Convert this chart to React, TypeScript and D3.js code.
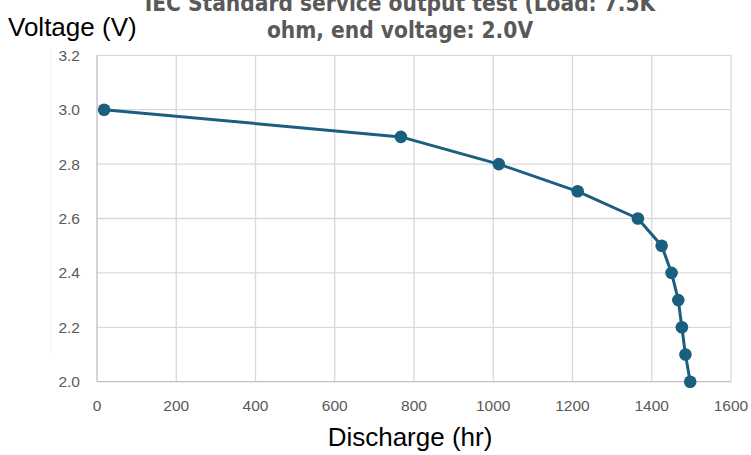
import * as d3 from 'd3';
import React, { useEffect, useRef } from 'react';

const hours = [18, 767, 1014, 1213, 1365, 1425, 1450, 1467, 1476, 1485, 1497];
const volts = [3.0, 2.9, 2.8, 2.7, 2.6, 2.5, 2.4, 2.3, 2.2, 2.1, 2.0];
const xTicks = [0, 200, 400, 600, 800, 1000, 1200, 1400, 1600];
const yTicks = [2.0, 2.2, 2.4, 2.6, 2.8, 3.0, 3.2];
const titleLines = ['IEC Standard service output test (Load: 7.5K', 'ohm, end voltage: 2.0V'];

export default function App() {
  const ref = useRef<SVGSVGElement>(null);

  useEffect(() => {
    if (!ref.current) return;
    const svg = d3.select(ref.current);
    svg.selectAll('*').remove();

    const x = d3.scaleLinear().domain([0, 1600]).range([97, 731]);
    const y = d3.scaleLinear().domain([2.0, 3.2]).range([381.7, 55.3]);

    // faint chart-area edge on the left
    svg.append('line')
      .attr('x1', 51).attr('x2', 51).attr('y1', 48).attr('y2', 355)
      .attr('stroke', '#f3f3f3').attr('stroke-width', 1);

    // gridlines
    svg.append('g').selectAll('line')
      .data(xTicks.slice(1))
      .enter().append('line')
      .attr('x1', d => x(d)).attr('x2', d => x(d))
      .attr('y1', y(3.2)).attr('y2', y(2.0))
      .attr('stroke', '#d9d9d9').attr('stroke-width', 1.3);
    svg.append('g').selectAll('line')
      .data(yTicks.slice(1))
      .enter().append('line')
      .attr('x1', x(0)).attr('x2', x(1600))
      .attr('y1', d => y(d)).attr('y2', d => y(d))
      .attr('stroke', '#d9d9d9').attr('stroke-width', 1.3);

    // axis lines
    svg.append('line')
      .attr('x1', x(0)).attr('x2', x(0)).attr('y1', y(3.2)).attr('y2', y(2.0))
      .attr('stroke', '#bfbfbf').attr('stroke-width', 1.3);
    svg.append('line')
      .attr('x1', x(0)).attr('x2', x(1600)).attr('y1', y(2.0)).attr('y2', y(2.0))
      .attr('stroke', '#bfbfbf').attr('stroke-width', 1.3);

    // tick labels
    svg.append('g').selectAll('text')
      .data(xTicks)
      .enter().append('text')
      .attr('x', d => x(d)).attr('y', 411)
      .attr('text-anchor', 'middle')
      .attr('font-family', 'Liberation Sans, Arial, sans-serif')
      .attr('font-size', 15.5).attr('fill', '#595959')
      .text(d => d);
    svg.append('g').selectAll('text')
      .data(yTicks)
      .enter().append('text')
      .attr('x', 80).attr('y', d => y(d) + 5.5)
      .attr('text-anchor', 'end')
      .attr('font-family', 'Liberation Sans, Arial, sans-serif')
      .attr('font-size', 15.5).attr('fill', '#595959')
      .text(d => d.toFixed(1));

    // series
    const pts = hours.map((h, i) => [h, volts[i]] as [number, number]);
    const line = d3.line<[number, number]>().x(d => x(d[0])).y(d => y(d[1]));
    svg.append('path')
      .attr('d', line(pts))
      .attr('fill', 'none')
      .attr('stroke', '#1a5f80').attr('stroke-width', 3)
      .attr('stroke-linejoin', 'round');
    svg.append('g').selectAll('circle')
      .data(pts)
      .enter().append('circle')
      .attr('cx', d => x(d[0])).attr('cy', d => y(d[1]))
      .attr('r', 6.3)
      .attr('fill', '#1a5f80');

    // title (first line runs off the top edge, as in the source)
    svg.append('g').selectAll('text')
      .data(titleLines)
      .enter().append('text')
      .attr('x', 400).attr('y', (d, i) => 11 + i * 27)
      .attr('text-anchor', 'middle')
      .attr('font-family', 'DejaVu Sans Condensed, DejaVu Sans, sans-serif')
      .attr('font-weight', 'bold')
      .attr('font-size', 22.5).attr('fill', '#595959')
      .text(d => d);

    // axis titles
    svg.append('text')
      .attr('x', 8).attr('y', 36)
      .attr('font-family', 'Liberation Sans, Arial, sans-serif')
      .attr('font-size', 26).attr('fill', '#000')
      .text('Voltage (V)');
    svg.append('text')
      .attr('x', 410).attr('y', 446)
      .attr('text-anchor', 'middle')
      .attr('font-family', 'Liberation Sans, Arial, sans-serif')
      .attr('font-size', 26).attr('fill', '#000')
      .text('Discharge (hr)');
  }, []);

  return (
    <svg
      ref={ref}
      width={751}
      height={455}
      style={{ position: 'absolute', left: 0, top: 0, background: '#fff' }}
    />
  );
}
